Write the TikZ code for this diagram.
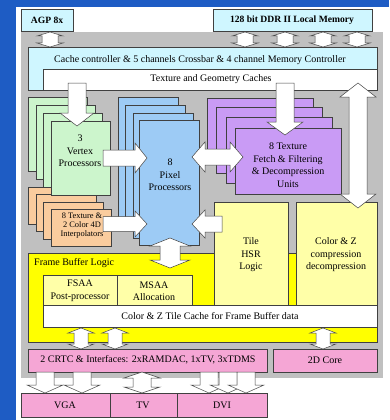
\documentclass[tikz,border=0pt]{standalone}
\usepackage{fontspec}
\setmainfont{Liberation Serif}
\definecolor{bgblue}{HTML}{1E5CC4}
\definecolor{greybg}{HTML}{C0C0C0}
\definecolor{cyanl}{HTML}{CFF6FF}
\definecolor{pinkb}{HTML}{F5A6D5}
\definecolor{yelb}{HTML}{FFFF00}
\definecolor{yell}{HTML}{FFFFA8}
\definecolor{greenl}{HTML}{CCF5CC}
\definecolor{orangel}{HTML}{FACC9E}
\definecolor{bluel}{HTML}{9DCBF5}
\definecolor{purl}{HTML}{C99BF5}
\definecolor{edge}{HTML}{404040}
\tikzset{
  bx/.style={draw=edge, line width=0.6pt},
  blk/.style={fill=white, draw=gray!55!black, line width=0.5pt},
  lbl/.style={inner sep=0pt, align=center, text=black, font=\fontsize{10}{12.5}\selectfont},
  lblb/.style={inner sep=0pt, align=center, text=black, font=\fontsize{9.6}{12}\selectfont\bfseries},
  lbls/.style={inner sep=0pt, align=center, text=black, font=\fontsize{8.4}{9}\selectfont},
}
% vertical arrow: cx, ystart, ytip, shaft half, head half, head length (signed)
\newcommand{\arrV}[6]{\path[blk] ({#1-#4},#2) -- ({#1+#4},#2) -- ({#1+#4},{#3-(#6)}) -- ({#1+#5},{#3-(#6)}) -- (#1,#3) -- ({#1-#5},{#3-(#6)}) -- ({#1-#4},{#3-(#6)}) -- cycle;}
% vertical double arrow: cx, ytop tip, ybottom tip, shaft half, head half, head length
\newcommand{\arrVV}[6]{\path[blk] (#1,#2) -- ({#1+#5},{#2+#6}) -- ({#1+#4},{#2+#6}) -- ({#1+#4},{#3-#6}) -- ({#1+#5},{#3-#6}) -- (#1,#3) -- ({#1-#5},{#3-#6}) -- ({#1-#4},{#3-#6}) -- ({#1-#4},{#2+#6}) -- ({#1-#5},{#2+#6}) -- cycle;}
% horizontal arrow: cy, xstart, xtip, shaft half, head half, head length (signed)
\newcommand{\arrH}[6]{\path[blk] (#2,{#1-#4}) -- ({#3-(#6)},{#1-#4}) -- ({#3-(#6)},{#1-#5}) -- (#3,#1) -- ({#3-(#6)},{#1+#5}) -- ({#3-(#6)},{#1+#4}) -- (#2,{#1+#4}) -- cycle;}
% horizontal double arrow: cy, xleft tip, xright tip, shaft half, head half, head length
\newcommand{\arrHH}[6]{\path[blk] (#2,#1) -- ({#2+#6},{#1-#5}) -- ({#2+#6},{#1-#4}) -- ({#3-#6},{#1-#4}) -- ({#3-#6},{#1-#5}) -- (#3,#1) -- ({#3-#6},{#1+#5}) -- ({#3-#6},{#1+#4}) -- ({#2+#6},{#1+#4}) -- ({#2+#6},{#1+#5}) -- cycle;}
\begin{document}
\begin{tikzpicture}[x=1pt,y=-1pt]
\useasboundingbox (0,0) rectangle (389,420);
% slide background
\fill[bgblue] (0,0) rectangle (389,420);
\fill[white] (16,7) rectangle (389,420);
% grey chip area
\fill[greybg] (21,32) rectangle (383,378);
% top external boxes
\path[bx, fill=cyanl] (21,9) rectangle (73,31);
\path[bx, fill=cyanl] (213,9) rectangle (372,31);
% cache controller
\path[bx, fill=cyanl] (28,47) rectangle (377,90);
\path[bx, fill=white] (43,69) rectangle (377,90);
% texture fetch units (purple stack)
\foreach \dx/\dy in {0/0, 9/9, 19/19, 28/30}
  \path[bx, fill=purl] ({207+\dx},{98+\dy}) rectangle ({313+\dx},{164+\dy});
% pixel processors (blue stack)
\foreach \dx/\dy in {0/0, 7/8, 15/16, 21/23}
  \path[bx, fill=bluel] ({118+\dx},{97+\dy}) rectangle ({178+\dx},{222+\dy});
% interpolators (orange stack)
\foreach \dx/\dy in {0/0, 8/7, 15/15, 23/22}
  \path[bx, fill=orangel] ({28+\dx},{187+\dy}) rectangle ({88+\dx},{224+\dy});
% vertex processors (green stack)
\foreach \dx/\dy in {0/0, 8/8, 15/16, 23/24}
  \path[bx, fill=greenl] ({28+\dx},{97+\dy}) rectangle ({87+\dx},{171+\dy});
% frame buffer logic
\path[bx, fill=yelb] (28,253) rectangle (377,342);
\path[bx, fill=yell] (214,202) rectangle (288,305);
\path[bx, fill=yell] (296,202) rectangle (377,305);
\path[bx, fill=yell] (43,275) rectangle (117,305);
\path[bx, fill=yell] (117,275) rectangle (192,305);
\path[bx, fill=white] (43,305) rectangle (377,327);
% display interfaces
\path[bx, fill=pinkb] (28,349) rectangle (267,372);
\path[bx, fill=pinkb] (273,349) rectangle (377,372);
\path[bx, fill=pinkb] (21,393) rectangle (110,417);
\path[bx, fill=pinkb] (110,393) rectangle (177,417);
\path[bx, fill=pinkb] (177,393) rectangle (267,417);
% arrows
\arrVV{50}{32}{47}{8}{13}{4}
\arrVV{245}{32}{47}{8}{13}{4}
\arrVV{285}{32}{47}{8}{13}{4}
\arrVV{323}{32}{47}{8}{13}{4}
\arrVV{357}{32}{47}{8}{13}{4}
\arrV{77}{83}{126}{9}{17}{13}
\arrV{285}{83}{135}{9}{18}{13}
\arrVV{358}{83}{208}{9}{18}{14}
\arrH{158}{103}{147}{8}{15}{12}
\arrH{224}{103}{147}{7.5}{13}{12}
\arrHH{157}{192}{243}{8}{15}{13}
\arrH{224}{222}{192}{8}{14}{-13}
\arrVV{170}{238}{268}{10}{20}{8}
\arrVV{81}{328}{349}{7}{13}{5}
\arrVV{115}{328}{349}{7}{13}{5}
\arrVV{323}{328}{349}{7}{13}{5}
\arrV{45}{372}{393}{9}{18}{8}
\arrV{82}{372}{393}{9}{18}{8}
\arrVV{142}{372}{393}{9}{18}{6}
\arrV{209}{372}{393}{9}{18}{8}
\arrV{228}{372}{393}{9}{18}{8}
\arrV{246}{372}{393}{9}{18}{8}
% labels
\node[lblb] (agp) at (47,20) {AGP 8x};
\node[lblb] (ddr) at (292,20) {128 bit DDR II Local Memory};
\node[lbl] (cache) at (200,60) {Cache controller \& 5 channels Crossbar \& 4 channel Memory Controller};
\node[lbl] (tgc) at (211,79) {Texture and Geometry Caches};
\node[lbl] (vertex) at (80,151) {3\\Vertex\\Processors};
\node[lbl] (pixel) at (170,175) {8\\Pixel\\Processors};
\node[lbl] (texunits) at (288,165) {8 Texture\\Fetch \& Filtering\\\& Decompression\\Units};
\node[lbls] (interp) at (82,226) {8 Texture \&\\2 Color 4D\\Interpolators};
\node[lbl] (tile) at (251,255) {Tile\\HSR\\Logic};
\node[lbl] (czc) at (336,255) {Color \& Z\\compression\\decompression};
\node[lbl, anchor=west] (fbl) at (34,263) {Frame Buffer Logic};
\node[lbl] (fsaa) at (80,291) {FSAA\\Post-processor};
\node[lbl] (msaa) at (154,291) {MSAA\\Allocation};
\node[lbl] (ztc) at (210,316) {Color \& Z Tile Cache for Frame Buffer data};
\node[lbl] (crtc) at (148,360) {2 CRTC \& Interfaces: 2xRAMDAC, 1xTV, 3xTDMS};
\node[lbl] (core2d) at (325,360) {2D Core};
\node[lbl] (vga) at (65,405) {VGA};
\node[lbl] (tv) at (143,405) {TV};
\node[lbl] (dvi) at (222,405) {DVI};
\end{tikzpicture}
\end{document}
